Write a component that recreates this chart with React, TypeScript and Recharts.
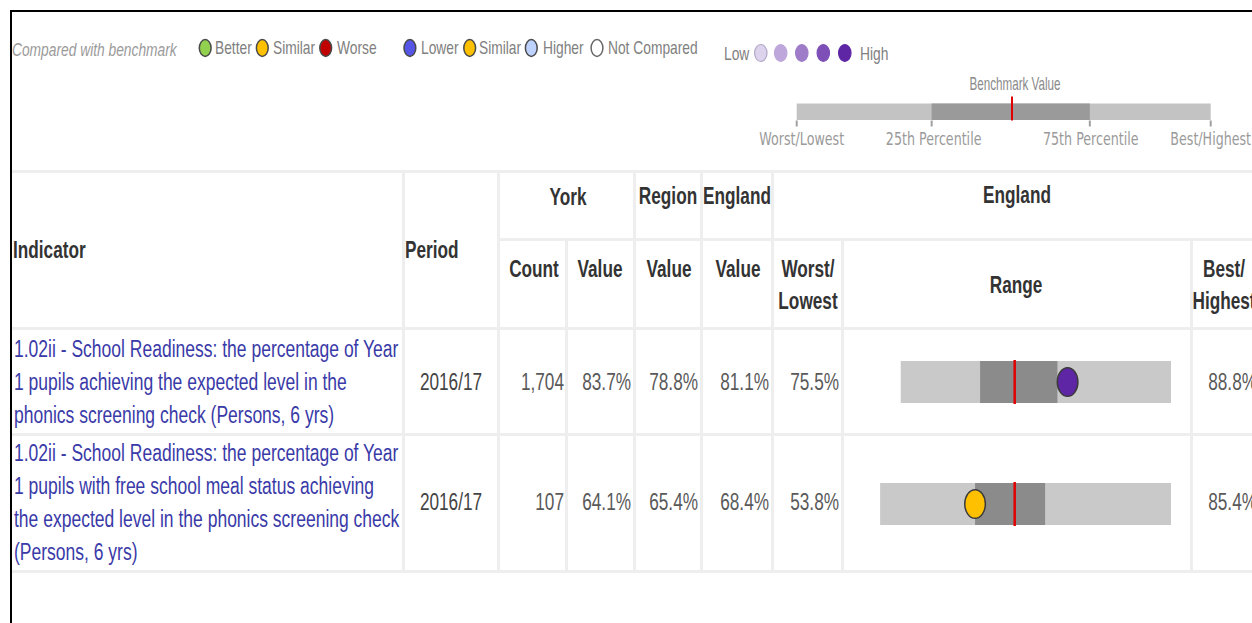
import React from 'react';
import {
  ComposedChart,
  Bar,
  XAxis,
  YAxis,
  ReferenceLine,
  ReferenceDot,
} from 'recharts';

// ---------------- data ----------------
const LEGEND_TITLE = 'Compared with benchmark';
const LEGEND_BENCHMARK = ['Better', 'Similar', 'Worse'];
const LEGEND_BENCHMARK_COLORS = ['#92D050', '#FFC000', '#C00000'];
const LEGEND_BOB = ['Lower', 'Similar', 'Higher', 'Not Compared'];
const LEGEND_BOB_COLORS = ['#5555E6', '#FFC000', '#BED2FF', '#FFFFFF'];
const QUINTILE_COLORS = ['#DED3EC', '#BEA7DA', '#9E7CC8', '#7E50B7', '#5E25A5'];

const KEY_TICKS = [0, 32.6, 70.8, 100];
const KEY_TICK_LABELS = ['Worst/Lowest', '25th Percentile', '75th Percentile', 'Best/Highest'];
const KEY_BENCHMARK = 52.0;

const INDICATOR_LINES = [
  [
    '1.02ii - School Readiness: the percentage of Year',
    '1 pupils achieving the expected level in the',
    'phonics screening check (Persons, 6 yrs)',
  ],
  [
    '1.02ii - School Readiness: the percentage of Year',
    '1 pupils with free school meal status achieving',
    'the expected level in the phonics screening check',
    '(Persons, 6 yrs)',
  ],
];
const PERIODS = ['2016/17', '2016/17'];
const YORK_COUNT = [1704, 107];
const YORK_VALUE = [83.7, 64.1];
const REGION_VALUE = [78.8, 65.4];
const ENGLAND_VALUE = [81.1, 68.4];
const ENGLAND_WORST = [75.5, 53.8];
const ENGLAND_Q25 = [79.4, 64.1];
const ENGLAND_Q75 = [83.2, 71.7];
const ENGLAND_BEST = [88.8, 85.4];
const YORK_DOT_COLOR = ['#5E25A5', '#FFC000'];

// ---------------- layout ----------------
const FONT = '"Liberation Sans", Arial, Helvetica, sans-serif';
const SX = 0.745;
const BODY = 23.1;
const ROW_CENTER = [382.5, 503];
const LINE_H = 33;
const VALUE_RIGHT = [563.7, 631, 698.3, 769.3, 839.3, 1257];
const SPINE_TOP = [360, 481.5];
const KEY_LABEL_DX = [5, 2, 1, 0];
const GRID = '#EEEEEE';

type TP = {
  x: number;
  y: number;
  children: React.ReactNode;
  size?: number;
  weight?: number;
  color?: string;
  anchor?: 'start' | 'middle' | 'end';
  italic?: boolean;
  sx?: number;
  family?: string;
};

function T({ x, y, children, size = BODY, weight = 400, color = '#333', anchor = 'start', italic = false, sx = SX, family = FONT }: TP) {
  const tx = anchor === 'start' ? '0px' : anchor === 'middle' ? '-50%' : '-100%';
  const origin = anchor === 'start' ? 'left center' : anchor === 'middle' ? 'center center' : 'right center';
  return (
    <span
      style={{
        position: 'absolute',
        left: x,
        top: y,
        fontFamily: family,
        fontSize: size,
        lineHeight: `${size}px`,
        fontWeight: weight,
        fontStyle: italic ? 'italic' : 'normal',
        color,
        whiteSpace: 'nowrap',
        transformOrigin: origin,
        transform: `translate(${tx}, -50%) scaleX(${sx})`,
      }}
    >
      {children}
    </span>
  );
}

const KeyTick = (props: any) => {
  const { x, y, payload } = props;
  const idx = KEY_TICKS.indexOf(payload.value);
  const cx = x + (KEY_LABEL_DX[idx] || 0);
  return (
    <text
      x={cx}
      y={y}
      dy={16.5}
      textAnchor="middle"
      fontFamily='"DejaVu Sans", Verdana, sans-serif'
      fontSize={17}
      fill="#9A9A9A"
      transform={`translate(${cx} 0) scale(${SX} 1) translate(${-cx} 0)`}
    >
      {KEY_TICK_LABELS[idx]}
    </text>
  );
};

function Spine({ i }: { i: number }) {
  const e = ENGLAND_VALUE[i];
  const d = Math.max(ENGLAND_BEST[i] - e, e - ENGLAND_WORST[i]);
  const data = [
    { name: 'row', full: [ENGLAND_WORST[i], ENGLAND_BEST[i]], iqr: [ENGLAND_Q25[i], ENGLAND_Q75[i]] },
  ];
  const color = YORK_DOT_COLOR[i];
  return (
    <div style={{ position: 'absolute', left: 857.6, top: SPINE_TOP[i], width: 313.4, height: 44 }}>
      <ComposedChart
        width={313.4}
        height={44}
        data={data}
        layout="vertical"
        margin={{ top: 0, right: 0, bottom: 0, left: 0 }}
        barGap={-42}
      >
        <XAxis type="number" domain={[e - d, e + d]} hide allowDataOverflow />
        <YAxis type="category" dataKey="name" hide />
        <Bar dataKey="full" fill="#C9C9C9" barSize={42} isAnimationActive={false} />
        <Bar dataKey="iqr" fill="#8B8B8B" barSize={42} isAnimationActive={false} />
        <ReferenceLine x={e} stroke="#E00000" strokeWidth={2.5} />
        <ReferenceDot
          x={YORK_VALUE[i]}
          y="row"
          shape={(p: any) => (
            <ellipse cx={p.cx} cy={p.cy} rx={10.3} ry={14.3} fill={color} stroke="#3a3a3a" strokeWidth={1.5} />
          )}
        />
      </ComposedChart>
    </div>
  );
}

function KeySpine() {
  const data = [{ name: 'key', full: [KEY_TICKS[0], KEY_TICKS[3]], iqr: [KEY_TICKS[1], KEY_TICKS[2]] }];
  return (
    <div style={{ position: 'absolute', left: 740, top: 96, width: 512, height: 55 }}>
      <ComposedChart
        width={512}
        height={55}
        layout="vertical"
        data={data}
        margin={{ top: 7.5, left: 56.7, right: 41.3, bottom: 0 }}
        barGap={-16.5}
      >
        <XAxis
          type="number"
          domain={[0, 100]}
          ticks={KEY_TICKS}
          interval={0}
          axisLine={false}
          tickLine={{ stroke: '#A0A0A0', strokeWidth: 2 }}
          tickSize={6}
          height={30.5}
          tick={KeyTick}
        />
        <YAxis type="category" dataKey="name" hide />
        <Bar dataKey="full" fill="#C3C3C3" barSize={16.5} isAnimationActive={false} />
        <Bar dataKey="iqr" fill="#9A9A9A" barSize={16.5} isAnimationActive={false} />
        <ReferenceLine
          x={KEY_BENCHMARK}
          stroke="#E00000"
          strokeWidth={2}
          shape={(p: any) => (
            <line
              x1={p.x1}
              x2={p.x2}
              y1={Math.max(p.y1, p.y2)}
              y2={Math.min(p.y1, p.y2) - 7}
              stroke="#E00000"
              strokeWidth={2}
            />
          )}
        />
      </ComposedChart>
    </div>
  );
}

function HLine({ y, x1, x2 }: { y: number; x1: number; x2: number }) {
  return <div style={{ position: 'absolute', left: x1, top: y - 1.5, width: x2 - x1, height: 3, background: GRID }} />;
}
function VLine({ x, y1, y2 }: { x: number; y1: number; y2: number }) {
  return <div style={{ position: 'absolute', left: x - 1.5, top: y1, width: 3, height: y2 - y1, background: GRID }} />;
}

const BENCH_CX = [205.2, 262.3, 325.7];
const BENCH_TX = [215, 273.3, 336.7];
const BOB_CX = [409.9, 469.7, 531.3, 597];
const BOB_TX = [420.7, 479.3, 542.7, 608.3];
const Q_CX = [760.8, 780.7, 801.8, 823.3, 844.8];

export default function App() {
  const fmtPct = (v: number) => `${v.toFixed(1)}%`;
  return (
    <div
      style={{
        position: 'absolute',
        left: 0,
        top: 0,
        width: 1252,
        height: 623,
        overflow: 'hidden',
        background: '#fff',
        fontFamily: FONT,
      }}
    >
      {/* legend ellipses */}
      <svg width={1252} height={90} style={{ position: 'absolute', left: 0, top: 0 }}>
        {LEGEND_BENCHMARK_COLORS.map((c, k) => (
          <ellipse key={'b' + k} cx={BENCH_CX[k]} cy={48} rx={5.9} ry={8.4} fill={c} stroke="#4a4a4a" strokeWidth={1.5} />
        ))}
        {LEGEND_BOB_COLORS.map((c, k) => (
          <ellipse key={'o' + k} cx={BOB_CX[k]} cy={48} rx={5.9} ry={8.4} fill={c} stroke={k === 3 ? '#666' : '#4a4a4a'} strokeWidth={1.5} />
        ))}
        {QUINTILE_COLORS.map((c, k) => (
          <ellipse key={'q' + k} cx={Q_CX[k]} cy={53} rx={6.2} ry={8.5} fill={c} stroke={k === 0 ? '#B0A6C6' : c} strokeWidth={1.2} />
        ))}
      </svg>

      <T x={12} y={49.5} size={18.5} italic color="#9A9A9A">{LEGEND_TITLE}</T>
      {LEGEND_BENCHMARK.map((t, k) => (
        <T key={'bt' + k} x={BENCH_TX[k]} y={48.3} size={18.5} color="#808080">{t}</T>
      ))}
      {LEGEND_BOB.map((t, k) => (
        <T key={'ot' + k} x={BOB_TX[k]} y={48.3} size={18.5} color="#808080">{t}</T>
      ))}
      <T x={724} y={53.5} size={18.5} color="#808080">Low</T>
      <T x={860} y={53.5} size={18.5} color="#808080">High</T>
      <T x={1014.5} y={84} size={18.5} color="#8A8A8A" anchor="middle" sx={0.63}>Benchmark Value</T>

      <KeySpine />

      {/* grid */}
      <HLine y={171} x1={12} x2={1252} />
      <HLine y={239.5} x1={498} x2={1252} />
      <HLine y={328.7} x1={12} x2={1252} />
      <HLine y={434} x1={12} x2={1252} />
      <HLine y={571.5} x1={12} x2={1252} />
      <VLine x={403.3} y1={171} y2={571.5} />
      <VLine x={498} y1={171} y2={571.5} />
      <VLine x={566.7} y1={239.5} y2={571.5} />
      <VLine x={634} y1={171} y2={571.5} />
      <VLine x={701.3} y1={171} y2={571.5} />
      <VLine x={772.3} y1={171} y2={571.5} />
      <VLine x={842.3} y1={239.5} y2={571.5} />
      <VLine x={1191.3} y1={239.5} y2={571.5} />

      {/* header */}
      <T x={13} y={251.3} weight={700}>Indicator</T>
      <T x={405} y={250.7} weight={700}>Period</T>
      <T x={567.5} y={197.5} weight={700} anchor="middle">York</T>
      <T x={667.8} y={196.7} weight={700} anchor="middle">Region</T>
      <T x={737.2} y={196.7} weight={700} anchor="middle">England</T>
      <T x={1016.7} y={196} weight={700} anchor="middle">England</T>
      <T x={533.7} y={269.7} weight={700} anchor="middle">Count</T>
      <T x={600} y={269.7} weight={700} anchor="middle">Value</T>
      <T x={668.5} y={269.7} weight={700} anchor="middle">Value</T>
      <T x={737.5} y={269.7} weight={700} anchor="middle">Value</T>
      <T x={808} y={269.7} weight={700} anchor="middle">Worst/</T>
      <T x={808} y={302} weight={700} anchor="middle">Lowest</T>
      <T x={1016.3} y={286} weight={700} anchor="middle">Range</T>
      <T x={1224} y={270} weight={700} anchor="middle">Best/</T>
      <T x={1224} y={302} weight={700} anchor="middle">Highest</T>

      {/* rows */}
      {INDICATOR_LINES.map((lines, i) => (
        <React.Fragment key={'r' + i}>
          {lines.map((ln, j) => (
            <T key={'l' + j} x={14} y={ROW_CENTER[i] + (j - (lines.length - 1) / 2) * LINE_H} color="#3A3AA8" sx={0.758}>
              {ln}
            </T>
          ))}
          <T x={450.5} y={ROW_CENTER[i]} color="#444" anchor="middle">{PERIODS[i]}</T>
          <T x={VALUE_RIGHT[0]} y={ROW_CENTER[i]} color="#595959" anchor="end">{YORK_COUNT[i].toLocaleString('en-GB')}</T>
          <T x={VALUE_RIGHT[1]} y={ROW_CENTER[i]} color="#595959" anchor="end">{fmtPct(YORK_VALUE[i])}</T>
          <T x={VALUE_RIGHT[2]} y={ROW_CENTER[i]} color="#595959" anchor="end">{fmtPct(REGION_VALUE[i])}</T>
          <T x={VALUE_RIGHT[3]} y={ROW_CENTER[i]} color="#595959" anchor="end">{fmtPct(ENGLAND_VALUE[i])}</T>
          <T x={VALUE_RIGHT[4]} y={ROW_CENTER[i]} color="#595959" anchor="end">{fmtPct(ENGLAND_WORST[i])}</T>
          <T x={VALUE_RIGHT[5]} y={ROW_CENTER[i]} color="#595959" anchor="end">{fmtPct(ENGLAND_BEST[i])}</T>
          <Spine i={i} />
        </React.Fragment>
      ))}

      {/* frame */}
      <div style={{ position: 'absolute', left: 10, top: 9.5, width: 1242, height: 2.2, background: '#000' }} />
      <div style={{ position: 'absolute', left: 10, top: 9.5, width: 2.2, height: 614, background: '#000' }} />
    </div>
  );
}
